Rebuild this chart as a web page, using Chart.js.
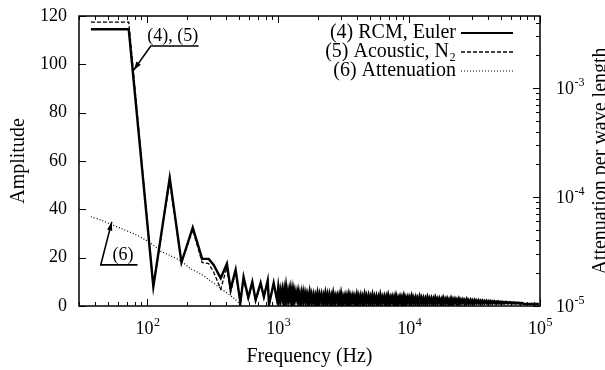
<!DOCTYPE html>
<html>
<head>
<meta charset="utf-8">
<script src="https://cdn.jsdelivr.net/npm/chart.js@4.4.1/dist/chart.umd.min.js"></script>
<style>
  html, body { margin: 0; padding: 0; background: #fff; }
</style>
</head>
<body>
<canvas id="chart" width="605" height="370"></canvas>
<script>
// low frequency part (Hz / amplitude)
const freqLow = [37, 72, 111, 148, 182, 222, 262, 294, 321, 363, 405, 432, 472, 513, 543, 590, 633, 671, 733, 776, 830, 850, 922, 978];
const rcmLow = [114.5, 114.5, 8, 53, 18, 32.5, 19.5, 19.5, 17, 11.5, 17.5, 7, 15, 1.5, 12, 3.5, 10, 2.5, 9.5, 3.8, 10.5, 0.5, 9.5, 2.5];
const acousticLow = [117.5, 117.5, 8, 51.5, 18, 31.5, 18, 17.5, 14, 7, 16, 5.5, 14, 1, 11, 3, 9.5, 2, 9, 3.5, 10, 1, 9, 2];

// dense noisy band above 1 kHz
const bandFreq = [
  1000, 1035, 1072, 1109, 1148, 1189, 1230, 1274, 1318, 1365,
  1413, 1462, 1514, 1567, 1622, 1679, 1738, 1799, 1862, 1928,
  1995, 2065, 2138, 2213, 2291, 2371, 2455, 2541, 2630, 2723,
  2818, 2917, 3020, 3126, 3236, 3350, 3467, 3589, 3715, 3846,
  3981, 4121, 4266, 4416, 4571, 4732, 4898, 5070, 5248, 5433,
  5623, 5821, 6026, 6237, 6457, 6683, 6918, 7161, 7413, 7674,
  7943, 8222, 8511, 8810, 9120, 9441, 9772, 10116, 10471, 10839,
  11220, 11614, 12023, 12445, 12882, 13335, 13804, 14289, 14791, 15311,
  15849, 16406, 16982, 17579, 18197, 18836, 19498, 20184, 20893, 21627,
  22387, 23174, 23988, 24831, 25704, 26607, 27542, 28510, 29512, 30549,
  31623, 32734, 33884, 35075, 36308, 37584, 38905, 40272, 41687, 43152,
  44668, 46238, 47863, 49545, 51286, 53088, 54954, 56885, 58884, 60954,
  63096, 65313, 67608, 69984, 72444
];
const rcmBand = [
  8, 1.5, 7, 0.5, 8.5, 2, 7.5, 0.5, 7, 2.5,
  6.5, 0.3, 6, 1.5, 5.5, 0.5, 6, 1, 5, 0.3,
  5.5, 1, 5, 0.5, 5.5, 0.8, 5, 0.3, 5.5, 1,
  4.5, 0.5, 5.5, 0.8, 4.5, 0.3, 5, 1, 4.5, 0.5,
  5, 0.8, 4.5, 0.3, 5, 1, 4.5, 0.5, 4.8, 0.8,
  4.2, 0.3, 4.8, 1, 4.2, 0.5, 4.6, 0.8, 4, 0.4,
  4.5, 1, 4, 0.5, 4.4, 0.8, 3.8, 0.4, 4.2, 1,
  3.8, 0.5, 4, 0.8, 3.5, 0.5, 3.8, 1, 3.4, 0.6,
  3.6, 0.8, 3.2, 0.5, 3.5, 1, 3.2, 0.6, 3.3, 0.8,
  3, 0.6, 3.1, 1, 2.8, 0.7, 2.9, 0.9, 2.6, 0.7,
  2.6, 1, 2.4, 0.8, 2.3, 1, 2.2, 0.8, 2.1, 1,
  2, 0.9, 1.9, 1, 1.8, 1, 1.7, 1, 1.6, 1,
  1.5, 1, 1.4, 1, 1.3
];
const acousticBand = [
  1, 7.5, 2, 8, 0.5, 7, 1.5, 8, 0.8, 6.5,
  1, 6, 0.5, 6.5, 1, 5.5, 0.5, 5.5, 0.8, 5,
  0.5, 5.5, 1, 5, 0.3, 5.5, 0.8, 5, 0.5, 4.8,
  1, 5.2, 0.5, 4.6, 0.8, 5, 0.3, 4.8, 1, 4.6,
  0.5, 4.8, 1, 4.6, 0.4, 4.8, 0.8, 4.4, 0.5, 4.6,
  1, 4.4, 0.5, 4.2, 0.8, 4.5, 0.4, 4.2, 1, 4.4,
  0.5, 4, 0.8, 4.3, 0.4, 4, 1, 4.1, 0.6, 3.9,
  0.8, 3.7, 0.5, 3.9, 1, 3.6, 0.6, 3.6, 0.8, 3.5,
  0.5, 3.4, 1, 3.3, 0.6, 3.3, 0.8, 3.1, 0.5, 3.2,
  0.9, 3, 0.6, 2.9, 1, 2.8, 0.7, 2.7, 0.9, 2.6,
  0.8, 2.5, 1, 2.4, 0.8, 2.3, 1, 2.2, 0.9, 2.1,
  1, 2, 0.9, 1.9, 1, 1.8, 1, 1.7, 1, 1.6,
  1, 1.5, 1, 1.4, 1
];
const tailFreq = [76000, 98000];
const tailAmp = [0.8, 0.8];

// attenuation per wave length (right log axis)
const attenFreq = [37, 45, 53, 63, 79, 95, 112, 126, 150, 179, 214, 250, 288, 363, 457, 513, 580];
const attenValue = [6.6e-5, 6.1e-5, 5.6e-5, 5.15e-5, 4.6e-5, 4.1e-5, 3.6e-5, 3.2e-5, 2.9e-5, 2.6e-5, 2.2e-5, 2.0e-5, 1.78e-5, 1.45e-5, 1.18e-5, 1.04e-5, 9.3e-6];

const seriesLabels = ['(4) RCM, Euler', '(5) Acoustic, N\u2082', '(6) Attenuation'];
const amplitudeTicks = [0, 20, 40, 60, 80, 100, 120];
const freqMajor = [100, 1000, 10000, 100000];
const freqExp = ['2', '3', '4', '5'];
const attenMajor = [1e-5, 1e-4, 1e-3];
const attenExp = ['-5', '-4', '-3'];

const SERIF = "'Liberation Serif', 'Times New Roman', serif";

function toPoints(xs, ys) {
  return xs.map((x, i) => ({ x: x, y: ys[i] }));
}

const fullFreq = freqLow.concat(bandFreq, tailFreq);
const rcmPoints = toPoints(fullFreq, rcmLow.concat(rcmBand, tailAmp));
const acousticPoints = toPoints(fullFreq, acousticLow.concat(acousticBand, tailAmp));
const attenPoints = toPoints(attenFreq, attenValue);

// 1..9 x 10^k values inside a log range
function logSteps(min, max) {
  const out = [];
  for (let e = Math.floor(Math.log10(min)); e <= Math.ceil(Math.log10(max)); e++) {
    for (let m = 1; m < 10; m++) {
      const v = m * Math.pow(10, e);
      if (v >= min * 0.999 && v <= max * 1.001) out.push({ v: v, major: m === 1 });
    }
  }
  return out;
}

function drawPower(ctx, exp, x, y, center) {
  ctx.font = '18px ' + SERIF;
  const w = ctx.measureText('10').width;
  ctx.font = '12px ' + SERIF;
  const we = ctx.measureText(exp).width;
  const x0 = center ? x - (w + we) / 2 : x;
  ctx.textAlign = 'left';
  ctx.textBaseline = 'middle';
  ctx.font = '18px ' + SERIF;
  ctx.fillText('10', x0, y);
  ctx.font = '12px ' + SERIF;
  ctx.fillText(exp, x0 + w + 0.5, y - 6);
}

// box, inward ticks, power-of-ten labels, right title
const framePlugin = {
  id: 'frame',
  afterDatasetsDraw(chart) {
    const { ctx, chartArea: a, scales } = chart;
    ctx.save();
    ctx.strokeStyle = '#000';
    ctx.fillStyle = '#000';
    ctx.lineWidth = 1;
    ctx.beginPath();
    logSteps(scales.x.min, scales.x.max).forEach(t => {
      const px = Math.round(scales.x.getPixelForValue(t.v)) + 0.5;
      const len = t.major ? 7 : 4;
      ctx.moveTo(px, a.bottom); ctx.lineTo(px, a.bottom - len);
      ctx.moveTo(px, a.top); ctx.lineTo(px, a.top + len);
    });
    amplitudeTicks.forEach(v => {
      const py = Math.round(scales.y.getPixelForValue(v)) + 0.5;
      ctx.moveTo(a.left, py); ctx.lineTo(a.left + 7, py);
    });
    logSteps(scales.y2.min, scales.y2.max).forEach(t => {
      const py = Math.round(scales.y2.getPixelForValue(t.v)) + 0.5;
      const len = t.major ? 7 : 4;
      ctx.moveTo(a.right, py); ctx.lineTo(a.right - len, py);
    });
    ctx.stroke();
    ctx.lineWidth = 1.5;
    ctx.strokeRect(a.left, a.top, a.right - a.left, a.bottom - a.top);

    freqMajor.forEach((v, i) => {
      drawPower(ctx, freqExp[i], scales.x.getPixelForValue(v), a.bottom + 23, true);
    });
    attenMajor.forEach((v, i) => {
      drawPower(ctx, attenExp[i], a.right + 16, scales.y2.getPixelForValue(v) + 1, false);
    });

    // right axis title reads bottom to top
    ctx.font = '20px ' + SERIF;
    ctx.translate(606, (a.top + a.bottom) / 2);
    ctx.rotate(-Math.PI / 2);
    ctx.textAlign = 'center';
    ctx.textBaseline = 'alphabetic';
    ctx.fillText('Attenuation per wave length', 0, 0);
    ctx.restore();
  }
};

// legend: text right-aligned, line sample on the right
const legendPlugin = {
  id: 'sideLegend',
  afterDatasetsDraw(chart) {
    const { ctx, chartArea: a } = chart;
    ctx.save();
    ctx.font = '20px ' + SERIF;
    ctx.fillStyle = '#000';
    ctx.textAlign = 'right';
    ctx.textBaseline = 'middle';
    chart.data.datasets.forEach((ds, i) => {
      const y = a.top + 17 + i * 19;
      ctx.fillText(ds.label, a.right - 84, y);
      ctx.strokeStyle = ds.borderColor;
      ctx.lineWidth = Math.min(ds.borderWidth, 2);
      ctx.setLineDash(ds.borderDash || []);
      ctx.beginPath();
      ctx.moveTo(a.right - 79, y);
      ctx.lineTo(a.right - 27, y);
      ctx.stroke();
    });
    ctx.restore();
  }
};

// labelled arrows, placed in data coordinates
const notes = [
  { text: '(4), (5)', at: [156, 111.5], under: [106, 246, 107.6], tip: [78.5, 97.6] },
  { text: '(6)', at: [65, 21], under: [44, 84, 17], tip: [53.4, 34.8] }
];

const notesPlugin = {
  id: 'notes',
  afterDatasetsDraw(chart) {
    const { ctx, scales } = chart;
    const X = v => scales.x.getPixelForValue(v);
    const Y = v => scales.y.getPixelForValue(v);
    ctx.save();
    ctx.strokeStyle = '#000';
    ctx.fillStyle = '#000';
    ctx.font = '18px ' + SERIF;
    ctx.textAlign = 'center';
    ctx.textBaseline = 'middle';
    notes.forEach(n => {
      ctx.fillText(n.text, X(n.at[0]), Y(n.at[1]));
      const x0 = X(n.under[0]), x1 = X(n.under[1]), yu = Y(n.under[2]);
      const tx = X(n.tip[0]), ty = Y(n.tip[1]);
      ctx.lineWidth = 1.6;
      ctx.beginPath();
      ctx.moveTo(x1, yu);
      ctx.lineTo(x0, yu);
      ctx.lineTo(tx, ty);
      ctx.stroke();
      const ang = Math.atan2(ty - yu, tx - x0);
      ctx.beginPath();
      ctx.moveTo(tx, ty);
      ctx.lineTo(tx - 9 * Math.cos(ang - 0.3), ty - 9 * Math.sin(ang - 0.3));
      ctx.lineTo(tx - 9 * Math.cos(ang + 0.3), ty - 9 * Math.sin(ang + 0.3));
      ctx.closePath();
      ctx.fill();
    });
    ctx.restore();
  }
};

new Chart(document.getElementById('chart'), {
  type: 'line',
  data: {
    datasets: [
      {
        label: seriesLabels[0],
        data: rcmPoints,
        borderColor: '#000',
        borderWidth: 2.4,
        pointRadius: 0,
        tension: 0,
        yAxisID: 'y',
      },
      {
        label: seriesLabels[1],
        data: acousticPoints,
        borderColor: '#000',
        borderWidth: 1.3,
        borderDash: [4, 2],
        pointRadius: 0,
        tension: 0,
        yAxisID: 'y',
        // inside the dense band the two curves merge into one black mass
        segment: {
          borderDash: c => (c.p0.parsed.x >= 1000 ? [] : undefined),
          borderWidth: c => (c.p0.parsed.x >= 1000 ? 1.8 : undefined),
        },
      },
      {
        label: seriesLabels[2],
        data: attenPoints,
        borderColor: '#000',
        borderWidth: 1.2,
        borderDash: [1, 2],
        pointRadius: 0,
        tension: 0.3,
        yAxisID: 'y2',
      },
    ],
  },
  options: {
    responsive: false,
    animation: false,
    devicePixelRatio: 1,
    layout: { padding: { top: 16, left: 0, right: 0, bottom: 0 } },
    plugins: {
      legend: { display: false },
      tooltip: { enabled: false },
    },
    scales: {
      x: {
        type: 'logarithmic',
        min: 30,
        max: 100000,
        grid: { display: false, drawTicks: false },
        border: { display: false },
        ticks: { display: false },
        title: {
          display: true,
          text: 'Frequency (Hz)',
          color: '#000',
          font: { family: SERIF, size: 20 },
          padding: { top: 0, bottom: 1 },
        },
        afterFit(scale) { scale.height = 64; },
      },
      y: {
        type: 'linear',
        position: 'left',
        min: 0,
        max: 120,
        grid: { display: false, drawTicks: false },
        border: { display: false },
        ticks: {
          stepSize: 20,
          padding: 12,
          color: '#000',
          font: { family: SERIF, size: 18 },
        },
        title: {
          display: true,
          text: 'Amplitude',
          color: '#000',
          font: { family: SERIF, size: 20 },
          padding: { top: 7, bottom: 0 },
        },
        afterFit(scale) {
          scale.width = 79;
          scale.paddingTop = 0;
          scale.paddingBottom = 0;
        },
      },
      y2: {
        type: 'logarithmic',
        position: 'right',
        min: 1e-5,
        max: 4.6e-3,
        grid: { display: false, drawTicks: false },
        border: { display: false },
        ticks: { display: false },
        afterFit(scale) { scale.width = 65; },
      },
    },
  },
  plugins: [framePlugin, legendPlugin, notesPlugin],
});
</script>
</body>
</html>
